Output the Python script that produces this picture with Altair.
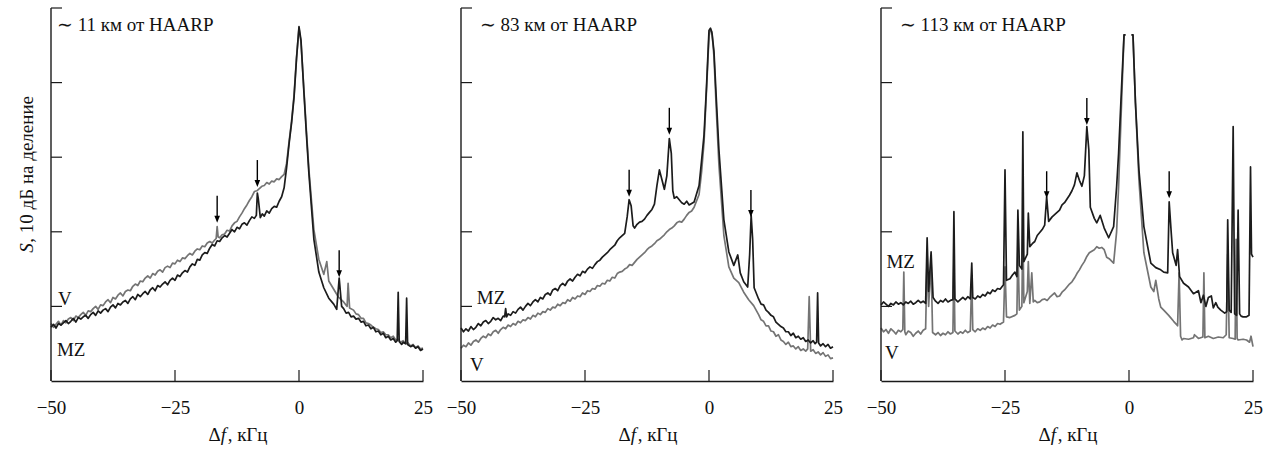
import altair as alt
import pandas as pd

FONT = "Liberation Serif"
FS = 19
C_MZ = "#1c1c1c"
C_V = "#747474"
C_AX = "#1a1a1a"

X_TICKS = [-50, -25, 0, 25]
Y_TICKS = [1, 2, 3, 4, 5]
PANEL_RANGES = [[0, 372], [410, 782], [830, 1202]]

TITLES = ["∼ 11 км от HAARP", "∼ 83 км от HAARP", "∼ 113 км от HAARP"]
TITLE_F = [-48.8, -46.2, -46.2]
TITLE_V = 4.69
LABEL_MZ = [(-48.8, 0.34), (-46.8, 1.03), (-48.9, 1.51)]
LABEL_V = [(-48.6, 1.02), (-48.2, 0.13), (-49.2, 0.29)]
ARROWS = [
    [(-16.5, 2.12), (-8.4, 2.60), (8.1, 1.39)],
    [(-16.1, 2.47), (-8.0, 3.30), (8.45, 2.20)],
    [(-16.6, 2.45), (-8.5, 3.43), (8.1, 2.45)],
]

P1_MZ = [(-50,0.72),(-49.5,0.76),(-49,0.71),(-48.5,0.77),(-48,0.75),(-47.5,0.78),(-47,0.81),(-46.5,0.77),(-46,0.80),(-45.5,0.84),
         (-45,0.79),(-44.5,0.85),(-44,0.83),(-43.5,0.86),(-43,0.88),(-42.5,0.84),(-42,0.89),(-41.5,0.92),(-41,0.88),(-40.5,0.94),
         (-40,0.91),(-39.5,0.95),(-39,0.97),(-38.5,0.93),(-38,0.99),(-37.5,1.02),(-37,0.98),(-36.5,1.04),(-36,1.02),(-35.5,1.06),
         (-35,1.08),(-34.5,1.04),(-34,1.10),(-33.5,1.13),(-33,1.09),(-32.5,1.16),(-32,1.13),(-31.5,1.17),(-31,1.20),(-30.5,1.16),
         (-30,1.22),(-29.5,1.25),(-29,1.21),(-28.5,1.28),(-28,1.26),(-27.5,1.30),(-27,1.33),(-26.5,1.29),(-26,1.35),(-25.5,1.38),
         (-25,1.35),(-24.5,1.42),(-24,1.40),(-23.5,1.45),(-23,1.48),(-22.5,1.46),(-22,1.53),(-21.5,1.57),(-21,1.55),(-20.5,1.63),
         (-20,1.62),(-19.5,1.69),(-19,1.72),(-18.5,1.71),(-18,1.78),(-17.5,1.83),(-17,1.81),(-16.5,1.88),(-16,1.87),(-15.5,1.92),
         (-15,1.95),(-14.5,1.93),(-14,1.98),(-13.5,2.03),(-13,2.00),(-12.5,2.06),(-12,2.04),(-11.5,2.10),(-11,2.12),(-10.5,2.09),
         (-10,2.15),(-9.5,2.20),(-9,2.18),(-8.6,2.22),(-8.4,2.52),(-8.2,2.44),(-7.8,2.19),(-7.4,2.24),(-7,2.21),(-6.5,2.28),
         (-6,2.25),(-5.5,2.31),(-5,2.34),(-4.5,2.33),(-4,2.41),(-3.5,2.47),(-3,2.59),(-2.5,2.86),(-2,3.18),(-1.5,3.46),
         (-1,3.80),(-0.5,4.32),(0,4.75),(0.4,4.57),(1,3.86),(1.5,3.30),(2,2.78),(3,1.90),(4,1.46),(5,1.25),
         (6,1.11),(7,1.03),(7.6,0.96),(8.1,1.38),(8.6,1.00),(9,0.97),(9.5,0.91),(10,0.92),(10.5,0.86),(11,0.87),
         (11.5,0.83),(12,0.84),(12.5,0.79),(13,0.80),(13.5,0.74),(14,0.75),(14.5,0.70),(15,0.72),(15.5,0.66),(16,0.67),
         (16.5,0.62),(17,0.64),(17.5,0.58),(18,0.60),(18.5,0.55),(19,0.57),(19.5,0.52),(19.8,0.54),(20,1.19),(20.2,0.53),
         (20.7,0.49),(21,0.52),(21.5,0.50),(21.7,1.11),(21.9,0.49),(22.5,0.46),(23,0.48),(23.5,0.44),(24,0.46),(24.5,0.41),
         (25,0.43)]

P1_V = [(-50,0.77),(-49.5,0.72),(-49,0.76),(-48.5,0.80),(-48,0.75),(-47.5,0.81),(-47,0.78),(-46.5,0.83),(-46,0.85),(-45.5,0.81),
        (-45,0.87),(-44.5,0.85),(-44,0.89),(-43.5,0.92),(-43,0.88),(-42.5,0.94),(-42,0.93),(-41.5,0.97),(-41,1.00),(-40.5,0.96),
        (-40,1.02),(-39.5,1.01),(-39,1.06),(-38.5,1.09),(-38,1.05),(-37.5,1.12),(-37,1.10),(-36.5,1.15),(-36,1.18),(-35.5,1.14),
        (-35,1.20),(-34.5,1.22),(-34,1.21),(-33.5,1.27),(-33,1.30),(-32.5,1.28),(-32,1.34),(-31.5,1.33),(-31,1.38),(-30.5,1.41),
        (-30,1.38),(-29.5,1.44),(-29,1.42),(-28.5,1.47),(-28,1.49),(-27.5,1.46),(-27,1.52),(-26.5,1.54),(-26,1.52),(-25.5,1.58),
        (-25,1.57),(-24.5,1.62),(-24,1.60),(-23.5,1.65),(-23,1.64),(-22.5,1.68),(-22,1.71),(-21.5,1.69),(-21,1.74),(-20.5,1.77),
        (-20,1.76),(-19.5,1.81),(-19,1.80),(-18.5,1.85),(-18,1.87),(-17.5,1.85),(-17,1.89),(-16.7,1.91),(-16.5,2.07),(-16.3,1.93),
        (-16,1.92),(-15.5,1.96),(-15,1.97),(-14.5,2.02),(-14,2.01),(-13.5,2.08),(-13,2.12),(-12.5,2.14),(-12,2.20),(-11.5,2.25),
        (-11,2.31),(-10.5,2.36),(-10,2.42),(-9.5,2.47),(-9,2.54),(-8.5,2.55),(-8,2.58),(-7.5,2.61),(-7,2.62),(-6.5,2.66),
        (-6,2.64),(-5.5,2.68),(-5,2.67),(-4.5,2.71),(-4,2.70),(-3.5,2.74),(-3,2.77),(-2.5,2.92),(-2,3.21),(-1.5,3.48),
        (-1,3.83),(-0.5,4.34),(0,4.73),(0.4,4.54),(1,3.89),(1.5,3.35),(2,2.83),(3,2.03),(4,1.63),(5,1.43),
        (5.6,1.60),(6,1.34),(7,1.23),(8,1.12),(9,1.06),(9.7,1.00),(9.9,1.31),(10.2,0.98),(11,0.95),(11.5,0.90),
        (12,0.89),(12.5,0.84),(13,0.84),(13.5,0.78),(14,0.77),(14.5,0.75),(15,0.72),(15.5,0.70),(16,0.69),(16.5,0.65),
        (17,0.66),(17.5,0.62),(18,0.62),(18.5,0.58),(19,0.60),(19.5,0.55),(20,0.56),(20.5,0.52),(21,0.54),(21.5,0.50),
        (22,0.51),(22.5,0.47),(23,0.49),(23.5,0.45),(24,0.47),(24.5,0.43),(25,0.44)]

P2_MZ = [(-50,0.71),(-49.5,0.66),(-49,0.70),(-48.5,0.67),(-48,0.73),(-47.5,0.69),(-47,0.72),(-46.5,0.77),(-46,0.74),(-45.5,0.79),
         (-45,0.81),(-44.5,0.77),(-44,0.80),(-43.5,0.85),(-43,0.82),(-42.5,0.84),(-42,0.81),(-41.5,0.87),(-41.2,0.86),(-41,0.97),
         (-40.8,0.86),(-40.5,0.90),(-40,0.88),(-39.5,0.93),(-39,0.91),(-38.5,0.96),(-38,0.99),(-37.5,0.95),(-37,1.00),(-36.5,1.04),
         (-36,1.01),(-35.5,1.06),(-35,1.09),(-34.5,1.06),(-34,1.12),(-33.5,1.10),(-33,1.16),(-32.5,1.18),(-32,1.15),(-31.5,1.22),
         (-31,1.24),(-30.5,1.21),(-30,1.28),(-29.5,1.31),(-29,1.28),(-28.5,1.34),(-28,1.37),(-27.5,1.34),(-27,1.39),(-26.5,1.43),
         (-26,1.41),(-25.5,1.47),(-25,1.45),(-24.5,1.50),(-24,1.53),(-23.5,1.51),(-23,1.56),(-22.5,1.60),(-22,1.62),(-21.5,1.66),
         (-21,1.69),(-20.5,1.72),(-20,1.76),(-19.5,1.79),(-19,1.82),(-18.5,1.88),(-18,1.92),(-17.5,1.95),(-17,1.98),(-16.5,2.20),
         (-16.1,2.43),(-15.7,2.35),(-15.3,2.08),(-15,2.05),(-14.5,2.10),(-14,2.13),(-13.5,2.14),(-13,2.17),(-12.5,2.22),(-12,2.26),
         (-11.5,2.30),(-11,2.37),(-10.5,2.62),(-10,2.83),(-9.5,2.70),(-9,2.57),(-8.5,2.75),(-8,3.25),(-7.6,3.05),(-7.3,2.55),
         (-7,2.45),(-6.5,2.47),(-6,2.43),(-5.5,2.39),(-5,2.37),(-4.5,2.41),(-4,2.36),(-3.5,2.38),(-3,2.40),(-2,2.62),
         (-1.5,2.95),(-1,3.30),(-0.5,3.95),(0,4.70),(0.3,4.73),(0.6,4.66),(1,4.42),(1.5,3.75),(2,3.10),(3,2.16),
         (4,1.73),(5,1.55),(5.8,1.69),(6.3,1.45),(7,1.33),(7.8,1.26),(8.2,1.70),(8.5,2.22),(8.8,1.90),(9.1,1.25),
         (10,1.10),(10.5,1.03),(11,1.02),(11.5,0.95),(12,0.92),(12.5,0.88),(13,0.86),(13.5,0.79),(14,0.76),(14.5,0.73),
         (15,0.71),(15.5,0.66),(16,0.66),(16.5,0.61),(17,0.64),(17.5,0.58),(18,0.60),(18.5,0.56),(19,0.58),(19.5,0.53),
         (20,0.55),(20.5,0.51),(21,0.54),(21.4,0.50),(21.7,0.52),(21.9,1.18),(22.1,0.51),(22.5,0.47),(23,0.50),(23.5,0.46),
         (24,0.49),(24.5,0.44),(25,0.46)]

P2_V = [(-50,0.44),(-49.5,0.48),(-49,0.46),(-48.5,0.51),(-48,0.48),(-47.5,0.53),(-47,0.55),(-46.5,0.52),(-46,0.57),(-45.5,0.60),
        (-45,0.58),(-44.5,0.63),(-44,0.61),(-43.5,0.66),(-43,0.68),(-42.5,0.64),(-42,0.69),(-41.5,0.72),(-41,0.70),(-40.5,0.75),
        (-40,0.73),(-39.5,0.77),(-39,0.75),(-38.5,0.80),(-38,0.78),(-37.5,0.82),(-37,0.81),(-36.5,0.85),(-36,0.83),(-35.5,0.88),
        (-35,0.86),(-34.5,0.91),(-34,0.89),(-33.5,0.93),(-33,0.92),(-32.5,0.97),(-32,0.95),(-31.5,0.99),(-31,0.98),(-30.5,1.03),
        (-30,1.01),(-29.5,1.05),(-29,1.04),(-28.5,1.09),(-28,1.07),(-27.5,1.12),(-27,1.10),(-26.5,1.14),(-26,1.13),(-25.5,1.18),
        (-25,1.16),(-24.5,1.21),(-24,1.20),(-23.5,1.24),(-23,1.23),(-22.5,1.28),(-22,1.27),(-21.5,1.31),(-21,1.30),(-20.5,1.35),
        (-20,1.34),(-19.5,1.39),(-19,1.38),(-18.5,1.44),(-18,1.46),(-17.5,1.47),(-17,1.50),(-16.5,1.52),(-16,1.56),(-15.5,1.55),
        (-15,1.59),(-14.5,1.63),(-14,1.66),(-13.5,1.69),(-13,1.72),(-12.5,1.76),(-12,1.79),(-11.5,1.81),(-11,1.84),(-10.5,1.88),
        (-10,1.90),(-9.5,1.93),(-9,1.96),(-8.5,2.00),(-8,2.03),(-7.5,2.05),(-7,2.08),(-6.5,2.12),(-6,2.14),(-5.5,2.13),
        (-5,2.17),(-4.5,2.22),(-4,2.26),(-3.5,2.28),(-3,2.33),(-2,2.50),(-1.5,2.80),(-1,3.20),(-0.5,3.90),(0,4.62),
        (0.3,4.72),(0.6,4.68),(1,4.35),(1.5,3.60),(2,2.90),(3,1.95),(4,1.53),(5,1.38),(6,1.32),(7,1.19),
        (8,1.09),(9,1.01),(10,0.89),(10.5,0.82),(11,0.80),(11.5,0.74),(12,0.74),(12.5,0.67),(13,0.66),(13.5,0.60),
        (14,0.62),(14.5,0.55),(15,0.53),(15.5,0.49),(16,0.52),(16.5,0.46),(17,0.47),(17.5,0.43),(18,0.46),(18.5,0.41),
        (19,0.43),(19.5,0.40),(19.9,0.43),(20.2,1.13),(20.5,0.40),(21,0.42),(21.5,0.37),(22,0.39),(22.5,0.35),(23,0.38),
        (23.5,0.33),(24,0.35),(24.5,0.30),(25,0.31)]

P3_MZ = [(-50,1.02),(-49.5,1.06),(-49,1.03),(-48.5,1.00),(-48,1.04),(-47.5,1.02),(-47,1.06),(-46.5,1.03),(-46,1.05),(-45.5,1.02),
         (-45,1.06),(-44.5,1.04),(-44,1.07),(-43.5,1.03),(-43,1.05),(-42.5,1.08),(-42,1.05),(-41.5,1.07),(-41,1.04),(-40.7,1.92),
         (-40.4,1.20),(-39.9,1.73),(-39.5,1.12),(-39,1.07),(-38.5,1.04),(-38,1.08),(-37.5,1.06),(-37,1.10),(-36.5,1.06),(-36,1.08),
         (-35.5,1.09),(-35.3,2.27),(-35.1,1.10),(-34.5,1.06),(-34,1.09),(-33.5,1.12),(-33,1.09),(-32.5,1.13),(-32,1.10),(-31.7,1.58),
         (-31.5,1.12),(-31,1.10),(-30.5,1.14),(-30,1.12),(-29.5,1.16),(-29,1.14),(-28.5,1.19),(-28,1.17),(-27.5,1.22),(-27,1.20),
         (-26.5,1.24),(-26,1.23),(-25.3,1.29),(-25.0,2.83),(-24.7,1.35),(-24,1.37),(-23.5,1.42),(-23,1.46),(-22.6,1.40),(-22.4,2.29),
         (-22.1,1.55),(-21.6,1.50),(-21.4,3.34),(-21.2,1.60),(-20.5,1.70),(-20.3,2.25),(-20,1.80),(-19.5,1.84),(-19,1.87),(-18.5,1.95),
         (-18,1.99),(-17.5,2.03),(-17,2.09),(-16.6,2.47),(-16.2,2.14),(-15.5,2.20),(-15,2.23),(-14.5,2.26),(-14,2.29),(-13.5,2.36),
         (-13,2.39),(-12.5,2.44),(-12,2.49),(-11.5,2.55),(-11,2.63),(-10.5,2.79),(-10,2.69),(-9.5,2.61),(-9,2.75),(-8.5,3.41),
         (-8.1,3.10),(-7.8,2.33),(-7,2.18),(-6.5,2.12),(-5.8,2.22),(-5,2.05),(-4.1,1.92),(-3.1,2.07),(-2.5,2.60),(-2.1,3.05),
         (-1.5,3.94),(-1.0,4.64),(-0.7,4.64),(0,None),(0.5,4.64),(0.8,4.64),(1.3,3.73),(2.0,2.83),(3.0,2.07),(4.4,1.58),
         (5.4,1.52),(6.4,1.49),(7,1.46),(7.8,1.45),(8.1,2.40),(8.5,2.00),(8.8,1.72),(9.5,1.55),(9.8,1.76),(10.2,1.40),
         (11,1.31),(12,1.26),(13,1.17),(14,1.21),(14.5,1.05),(15,1.15),(15.5,1.00),(16,1.12),(16.6,1.14),(17,0.98),
         (17.5,1.05),(17.9,0.99),(18.5,0.95),(19.3,0.91),(19.7,0.93),(19.9,2.16),(20.2,0.95),(20.6,0.92),(21.0,3.41),(21.3,0.90),
         (21.7,0.88),(22.0,2.29),(22.3,0.90),(22.6,0.87),(23,0.86),(23.7,0.86),(24.2,0.88),(24.5,2.87),(24.7,1.70),(25,1.66)]

P3_V = [(-50,0.71),(-49.5,0.66),(-49,0.69),(-48.5,0.64),(-48,0.70),(-47.5,0.67),(-47,0.63),(-46.5,0.68),(-46,0.66),(-45.6,0.69),
        (-45.4,1.46),(-45.2,0.66),(-45,0.62),(-44.5,0.67),(-44,0.65),(-43.5,0.60),(-43,0.64),(-42.5,0.67),(-42,0.63),(-41.5,0.68),
        (-41,0.70),(-40.7,1.70),(-40.4,1.00),(-39.9,1.60),(-39.6,0.65),(-39,0.62),(-38.5,0.65),(-38,0.61),(-37.5,0.64),(-37,0.62),
        (-36.5,0.66),(-36,0.63),(-35.5,0.65),(-35.3,1.60),(-35.1,0.67),(-34.5,0.63),(-34,0.66),(-33.5,0.64),(-33,0.68),(-32.5,0.65),
        (-32,0.67),(-31.7,1.40),(-31.5,0.69),(-31,0.66),(-30.5,0.70),(-30,0.68),(-29.5,0.71),(-29,0.69),(-28.5,0.73),(-28,0.71),
        (-27.5,0.75),(-27,0.73),(-26.5,0.77),(-26,0.76),(-25.3,0.79),(-25.0,1.53),(-24.7,0.86),(-24,0.85),(-23,0.88),(-22.6,0.90),
        (-22.4,1.80),(-22.1,0.95),(-21.6,1.00),(-21.4,2.10),(-21.2,1.05),(-20.5,1.20),(-20.3,1.60),(-20,1.04),(-19.6,1.45),(-19.3,1.06),
        (-19,1.08),(-18.5,1.05),(-18,1.06),(-17.5,1.09),(-17,1.10),(-16.5,1.08),(-16,1.12),(-15.5,1.15),(-15,1.18),(-14.5,1.13),
        (-14,1.14),(-13.5,1.19),(-13,1.22),(-12.5,1.26),(-12,1.30),(-11.5,1.33),(-11,1.38),(-10.5,1.44),(-10,1.49),(-9.5,1.55),
        (-9,1.60),(-8.5,1.67),(-8,1.72),(-7.5,1.74),(-7,1.76),(-6.5,1.80),(-6,1.78),(-5.5,1.79),(-5,1.76),(-4.5,1.66),
        (-4,1.64),(-3.1,1.58),(-2.5,2.00),(-2.1,2.60),(-1.5,3.73),(-1.0,4.64),(-0.7,4.64),(0,None),(0.5,4.64),(0.8,4.64),
        (1.3,3.73),(2.0,2.70),(3.0,1.72),(4.4,1.26),(5.0,1.20),(5.4,1.35),(6.0,1.10),(6.4,0.99),(7,0.95),(8,0.88),
        (9,0.80),(9.8,0.74),(10.1,1.45),(10.4,0.60),(10.7,0.55),(11,0.57),(12,0.56),(13,0.58),(13.2,0.62),(14,0.57),
        (14.9,0.59),(15.1,1.45),(15.3,0.58),(16,0.60),(17,0.57),(18,0.59),(19,0.58),(19.6,0.62),(19.9,1.70),(20.2,0.58),
        (21,0.57),(21.4,0.56),(21.6,1.90),(21.8,0.57),(22,0.55),(23,0.56),(23.7,0.55),(24.3,0.52),(24.6,0.60),(25,0.46)]

SERIES = [(P1_MZ, P1_V), (P2_MZ, P2_V), (P3_MZ, P3_V)]

XTITLE_F = -15.8
XTITLE_V = -0.80
YTITLE_F = -53.6
YTITLE_V = 1.72


def series_df(pairs):
    rows, seg = [], 0
    for f, v in pairs:
        if v is None:
            seg += 1
            continue
        rows.append({"f": f, "v": v, "seg": seg})
    return pd.DataFrame(rows)


def panel(i):
    xs = alt.Scale(domain=[-50, 25], range=PANEL_RANGES[i], nice=False, zero=False)
    ax = alt.Axis(values=X_TICKS, orient="bottom", grid=False, ticks=False, tickSize=0,
                  domain=True, domainColor=C_AX, domainWidth=1.4,
                  labelFont=FONT, labelFontSize=FS, labelColor="#111111",
                  labelPadding=32, labelBaseline="alphabetic", labelFlush=False,
                  labelOverlap=False, title=None)
    X = alt.X("f:Q", scale=xs, axis=ax)
    Y = alt.Y("v:Q", scale=alt.Scale(domain=[0, 5], nice=False, zero=False), axis=None)

    mz, vv = SERIES[i]
    layers = []
    layers.append(alt.Chart(series_df(vv)).mark_line(color=C_V, strokeWidth=1.7, strokeJoin="round")
                  .encode(x=X, y=Y, detail="seg:N"))
    layers.append(alt.Chart(series_df(mz)).mark_line(color=C_MZ, strokeWidth=1.7, strokeJoin="round")
                  .encode(x=X, y=Y, detail="seg:N"))

    # y axis line and inward ticks
    layers.append(alt.Chart(pd.DataFrame({"f": [-50], "v": [0], "v2": [5]}))
                  .mark_rule(color=C_AX, strokeWidth=1.4)
                  .encode(x=X, y=Y, y2="v2:Q"))
    layers.append(alt.Chart(pd.DataFrame({"f": [-50] * len(Y_TICKS), "v": Y_TICKS}))
                  .mark_rule(color=C_AX, strokeWidth=1.2, x2Offset=11)
                  .encode(x=X, x2="f:Q", y=Y))
    layers.append(alt.Chart(pd.DataFrame({"f": X_TICKS, "v": [0] * len(X_TICKS)}))
                  .mark_rule(color=C_AX, strokeWidth=1.2, y2Offset=-11)
                  .encode(x=X, y=Y, y2="v:Q"))

    # arrows
    adf = pd.DataFrame({"f": [a[0] for a in ARROWS[i]], "v": [a[1] for a in ARROWS[i]]})
    layers.append(alt.Chart(adf).mark_rule(color="#000000", strokeWidth=1.4, yOffset=-5, y2Offset=-27)
                  .encode(x=X, y=Y, y2="v:Q"))
    layers.append(alt.Chart(adf).mark_point(shape="M -0.4 -1 L 0.4 -1 L 0 0 Z", size=196, filled=True,
                                             color="#000000", opacity=1, strokeWidth=0)
                  .encode(x=X, y=Y))

    # in-panel texts
    tdf = pd.DataFrame({
        "f": [TITLE_F[i], LABEL_MZ[i][0], LABEL_V[i][0]],
        "v": [TITLE_V, LABEL_MZ[i][1], LABEL_V[i][1]],
        "t": [TITLES[i], "MZ", "V"],
    })
    layers.append(alt.Chart(tdf).mark_text(align="left", baseline="alphabetic", font=FONT, fontSize=FS,
                                           color="#111111")
                  .encode(x=X, y=Y, text="t:N"))

    # x title: Δf, кГц with italic f
    xt = pd.DataFrame({"f": [XTITLE_F], "v": [XTITLE_V]})
    layers.append(alt.Chart(xt).mark_text(align="right", baseline="alphabetic", font=FONT, fontSize=FS,
                                          color="#111111", text="Δ")
                  .encode(x=X, y=Y))
    layers.append(alt.Chart(xt).mark_text(align="left", baseline="alphabetic", font=FONT, fontSize=FS,
                                          fontStyle="italic", color="#111111", text="f")
                  .encode(x=X, y=Y))
    layers.append(alt.Chart(xt).mark_text(align="left", baseline="alphabetic", font=FONT, fontSize=FS,
                                          color="#111111", text=", кГц", dx=7)
                  .encode(x=X, y=Y))

    if i == 0:
        yt = pd.DataFrame({"f": [YTITLE_F], "v": [YTITLE_V]})
        layers.append(alt.Chart(yt).mark_text(align="left", baseline="alphabetic", font=FONT, fontSize=FS,
                                              fontStyle="italic", color="#111111", text="S", angle=270)
                      .encode(x=X, y=Y))
        layers.append(alt.Chart(yt).mark_text(align="left", baseline="alphabetic", font=FONT, fontSize=FS,
                                              color="#111111", text=", 10 дБ на деление", angle=270, dx=10)
                      .encode(x=X, y=Y))
    return alt.layer(*layers)


chart = (
    alt.layer(panel(0), panel(1), panel(2))
    .resolve_scale(x="independent")
    .properties(
        width=1202,
        height=373,
        padding={"left": 51, "top": 8, "right": 20, "bottom": 69},
        autosize=alt.AutoSizeParams(type="none"),
        background="white",
    )
    .configure_view(stroke="transparent")
)

chart.save("out.html", embed_options={"renderer": "svg", "actions": False})
